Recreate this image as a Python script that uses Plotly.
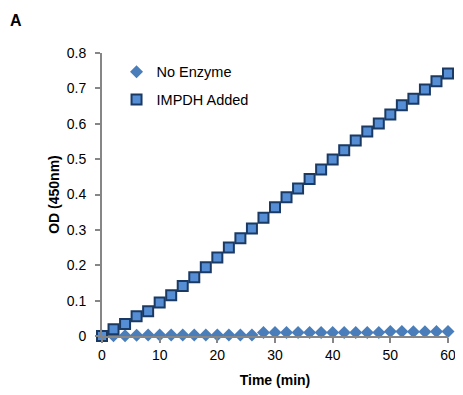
import plotly.graph_objects as go

time_min = [0, 2, 4, 6, 8, 10, 12, 14, 16, 18, 20, 22, 24, 26, 28, 30,
            32, 34, 36, 38, 40, 42, 44, 46, 48, 50, 52, 54, 56, 58, 60]
no_enzyme = [0.000, 0.001, 0.001, 0.002, 0.003, 0.003, 0.003, 0.003, 0.003, 0.003,
             0.003, 0.003, 0.003, 0.003, 0.010, 0.010, 0.010, 0.010, 0.010, 0.010,
             0.010, 0.010, 0.010, 0.010, 0.010, 0.013, 0.013, 0.012, 0.012, 0.013, 0.013]
impdh_added = [0.000, 0.019, 0.034, 0.056, 0.070, 0.095, 0.115, 0.141, 0.166, 0.194,
               0.222, 0.250, 0.276, 0.304, 0.334, 0.364, 0.392, 0.417, 0.444, 0.471,
               0.499, 0.525, 0.553, 0.578, 0.601, 0.626, 0.652, 0.671, 0.697, 0.720, 0.742]
x_ticks = [0, 10, 20, 30, 40, 50, 60]
y_ticks = [0, 0.1, 0.2, 0.3, 0.4, 0.5, 0.6, 0.7, 0.8]
y_tick_labels = ["0", "0.1", "0.2", "0.3", "0.4", "0.5", "0.6", "0.7", "0.8"]

FONT = "Liberation Sans, Arial, sans-serif"
AXIS_GRAY = "#868686"

# figure sits inside the page's 8px body margin
W, H = 455, 387
ML, MR, MT, MB = 94, 15, 45, 59
PW, PH = W - ML - MR, H - MT - MB

fig = go.Figure()
fig.add_trace(go.Scatter(
    x=time_min, y=no_enzyme, mode="markers", name="No Enzyme",
    legendgroup="a",
    marker=dict(symbol="diamond", size=10, color="#4A7EBB",
                line=dict(width=0)),
    cliponaxis=False,
))
fig.add_trace(go.Scatter(
    x=time_min, y=impdh_added, mode="markers", name="IMPDH Added",
    legendgroup="b",
    marker=dict(symbol="square", size=10, color="#558ED5",
                line=dict(width=2, color="#1B3A63")),
    cliponaxis=False,
))

fig.update_layout(
    width=W, height=H,
    margin=dict(l=ML, r=MR, t=MT, b=MB, autoexpand=False),
    paper_bgcolor="white", plot_bgcolor="white",
    font=dict(family=FONT, size=14, color="black"),
    showlegend=True,
    legend=dict(x=0.042, y=0.99, xanchor="left", yanchor="top",
                bgcolor="rgba(0,0,0,0)", font=dict(size=14.5),
                tracegroupgap=6, itemwidth=30),
    xaxis=dict(range=[0, 60], tickvals=x_ticks, showgrid=False, zeroline=False,
               showline=True, linecolor=AXIS_GRAY, linewidth=2,
               ticks="outside", ticklen=5, tickcolor=AXIS_GRAY, tickwidth=2,
               tickfont=dict(size=14),
               title=dict(text="<b>Time (min)</b>", font=dict(size=14), standoff=13)),
    yaxis=dict(range=[0, 0.8], tickvals=y_ticks, ticktext=y_tick_labels,
               showgrid=False, zeroline=False,
               showline=True, linecolor=AXIS_GRAY, linewidth=2,
               ticks="outside", ticklen=5, tickcolor=AXIS_GRAY, tickwidth=2,
               ticklabelstandoff=6,
               tickfont=dict(size=14),
               title=dict(text="<b>OD (450nm)</b>", font=dict(size=14), standoff=4)),
    annotations=[dict(text="<b>A</b>", xref="paper", yref="paper",
                      x=(0 - ML) / PW, y=1 + (MT - 12) / PH,
                      xanchor="left", yanchor="middle", showarrow=False,
                      font=dict(size=16, family=FONT))],
)

fig.write_html("out.html")
